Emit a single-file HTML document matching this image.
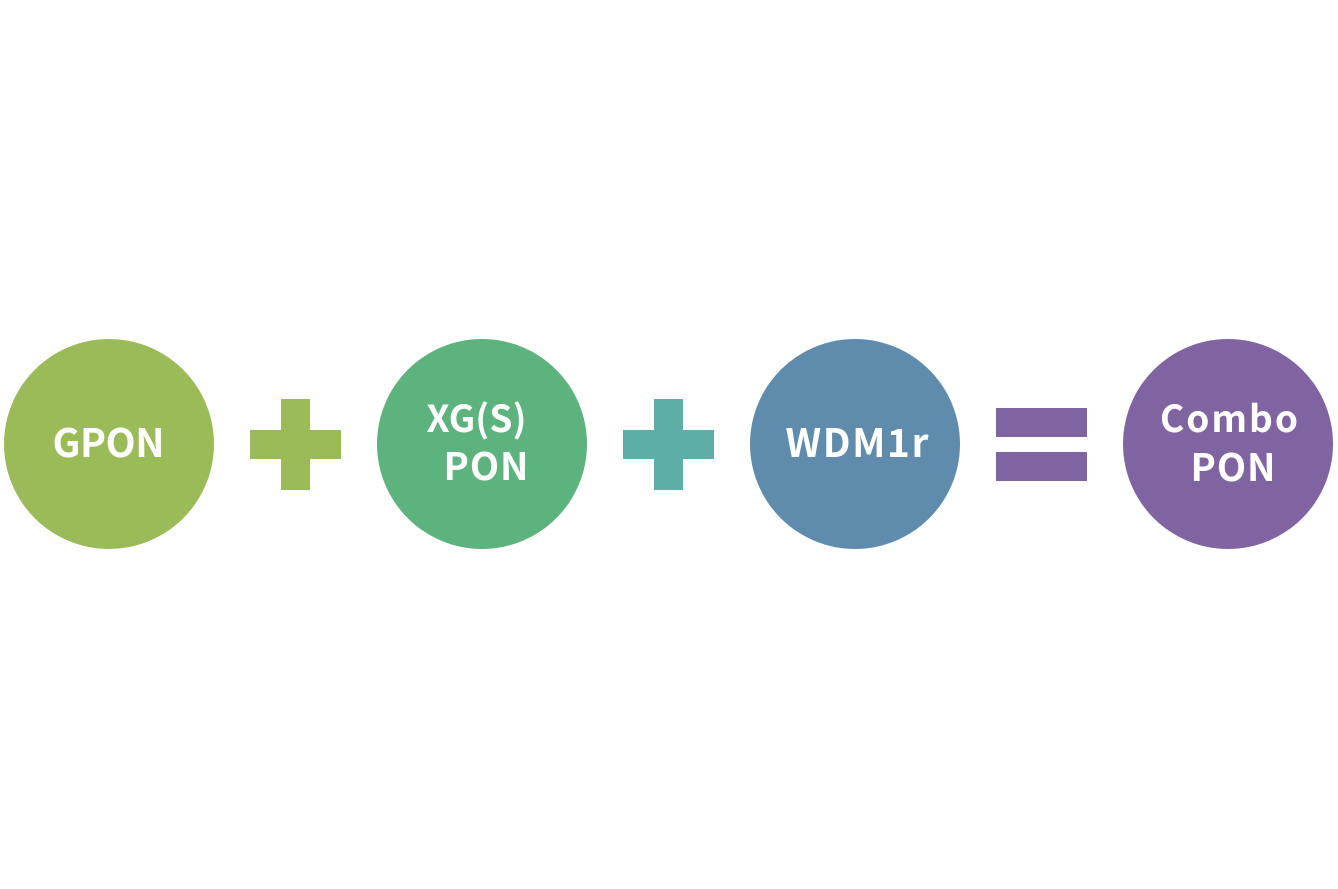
<!DOCTYPE html>
<html>
<head>
<meta charset="utf-8">
<style>
  html, body { margin: 0; padding: 0; background: #ffffff; }
  body { width: 1338px; height: 889px; overflow: hidden; }
  svg { display: block; }
  text { font-family: "Noto Sans CJK JP", "Liberation Sans", sans-serif; font-weight: 700; fill: #ffffff; text-anchor: middle; }
</style>
</head>
<body>
<svg width="1338" height="889" viewBox="0 0 1338 889" xmlns="http://www.w3.org/2000/svg">
  <rect width="1338" height="889" fill="#ffffff"/>

  <!-- GPON -->
  <circle cx="109" cy="444" r="105" fill="#9BBB59"/>
  <text x="108.5" y="457" font-size="39" textLength="112" lengthAdjust="spacing">GPON</text>

  <!-- plus 1 -->
  <rect x="281" y="399" width="29" height="91" fill="#9BBB59"/>
  <rect x="250" y="430" width="91" height="29" fill="#9BBB59"/>

  <!-- XG(S) PON -->
  <circle cx="482" cy="444" r="105" fill="#5DB37E"/>
  <text x="476.5" y="432" font-size="37" textLength="100" lengthAdjust="spacing">XG(S)</text>
  <text x="486" y="480" font-size="38" textLength="85" lengthAdjust="spacing">PON</text>

  <!-- plus 2 -->
  <rect x="654" y="399" width="29" height="91" fill="#5DAEA7"/>
  <rect x="623" y="430" width="91" height="29" fill="#5DAEA7"/>

  <!-- WDM1r -->
  <circle cx="855" cy="444" r="105" fill="#5F8CAD"/>
  <text x="857" y="457" font-size="39" textLength="143" lengthAdjust="spacing">WDM1r</text>

  <!-- equals -->
  <rect x="996" y="408" width="91" height="29" fill="#8064A2"/>
  <rect x="996" y="452" width="91" height="29" fill="#8064A2"/>

  <!-- Combo PON -->
  <circle cx="1228" cy="444" r="105" fill="#8064A2"/>
  <text x="1229" y="432" font-size="37" textLength="138" lengthAdjust="spacing">Combo</text>
  <text x="1233" y="481" font-size="38" textLength="85" lengthAdjust="spacing">PON</text>
</svg>
</body>
</html>
